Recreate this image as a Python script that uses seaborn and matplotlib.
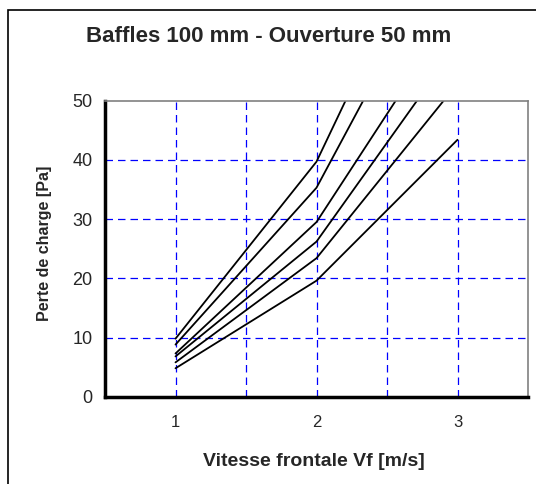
import matplotlib
matplotlib.use("Agg")
import matplotlib.pyplot as plt
import seaborn as sns
import pandas as pd
from matplotlib.ticker import MultipleLocator, FixedLocator

# Data
vitesse = [1, 2, 3]
serie_1 = [4.8, 19.6, 43.4]
serie_2 = [5.8, 23.4, 52.9]
serie_3 = [6.8, 26.2, 59.6]
serie_4 = [7.3, 29.5, 66.0]
serie_5 = [8.8, 35.3, 79.7]
serie_6 = [9.8, 39.7, 89.7]
series_names = ["s1", "s2", "s3", "s4", "s5", "s6"]
series_values = [serie_1, serie_2, serie_3, serie_4, serie_5, serie_6]

title = "Baffles 100 mm - Ouverture 50 mm"
xlabel = "Vitesse frontale Vf [m/s]"
ylabel = "Perte de charge [Pa]"

rows = []
for name, vals in zip(series_names, series_values):
    for x, y in zip(vitesse, vals):
        rows.append({"Vf": x, "dp": y, "serie": name})
df = pd.DataFrame(rows)

sns.set_style("white")
plt.rcParams["font.family"] = ["Liberation Sans", "DejaVu Sans"]

fig = plt.figure(figsize=(5.36, 4.84), dpi=100)
ax = fig.add_axes([105/536, 1 - 396.7/484, (528 - 105)/536, (396.7 - 100.7)/484])

sns.lineplot(data=df, x="Vf", y="dp", hue="serie", palette=["black"] * 6,
             legend=False, ax=ax, linewidth=1.3, sort=False)

ax.set_xlim(0.5, 3.5)
ax.set_ylim(0, 50)
ax.xaxis.set_major_locator(FixedLocator([1, 2, 3]))
ax.xaxis.set_minor_locator(FixedLocator([0.5, 1.5, 2.5, 3.5]))
ax.yaxis.set_major_locator(MultipleLocator(10))

# grid
for xv in [1, 1.5, 2, 2.5, 3]:
    ax.axvline(xv, color="#0000ff", linestyle=(0, (6, 4)), linewidth=0.9, zorder=0)
for yv in [10, 20, 30, 40]:
    ax.axhline(yv, color="#0000ff", linestyle=(0, (6, 4)), linewidth=0.9, zorder=0)

ax.set_xticklabels(["1", "2", "3"])
ax.tick_params(axis="x", which="both", direction="out", length=4, width=2, color="black", pad=9, labelsize=12)
ax.tick_params(axis="y", which="major", direction="out", length=4, width=2, color="black", labelsize=13, pad=5)

for s in ["left", "bottom"]:
    ax.spines[s].set_linewidth(2.5)
    ax.spines[s].set_color("black")
for s in ["top", "right"]:
    ax.spines[s].set_linewidth(1.2)
    ax.spines[s].set_color("#808080")
    ax.spines[s].set_visible(True)

ax.set_xlabel("")
ax.set_ylabel("")
fig.text(314/536, 1 - 461/484, xlabel, ha="center", va="center", fontsize=14, fontweight="bold")
fig.text(45/536, 1 - 243/484, ylabel, ha="center", va="center", rotation=90, fontsize=11.5, fontweight="bold")
fig.text(269/536, 1 - 37/484, title, ha="center", va="center", fontsize=16, fontweight="bold")

# outer chart frame (left and top edges visible)
frame = plt.Rectangle((7.5/536, -0.05), 1.2, 1 - 10/484 + 0.05, transform=fig.transFigure,
                      fill=False, edgecolor="black", linewidth=1.2)
fig.patches.append(frame)

fig.savefig("out.png", dpi=100)
